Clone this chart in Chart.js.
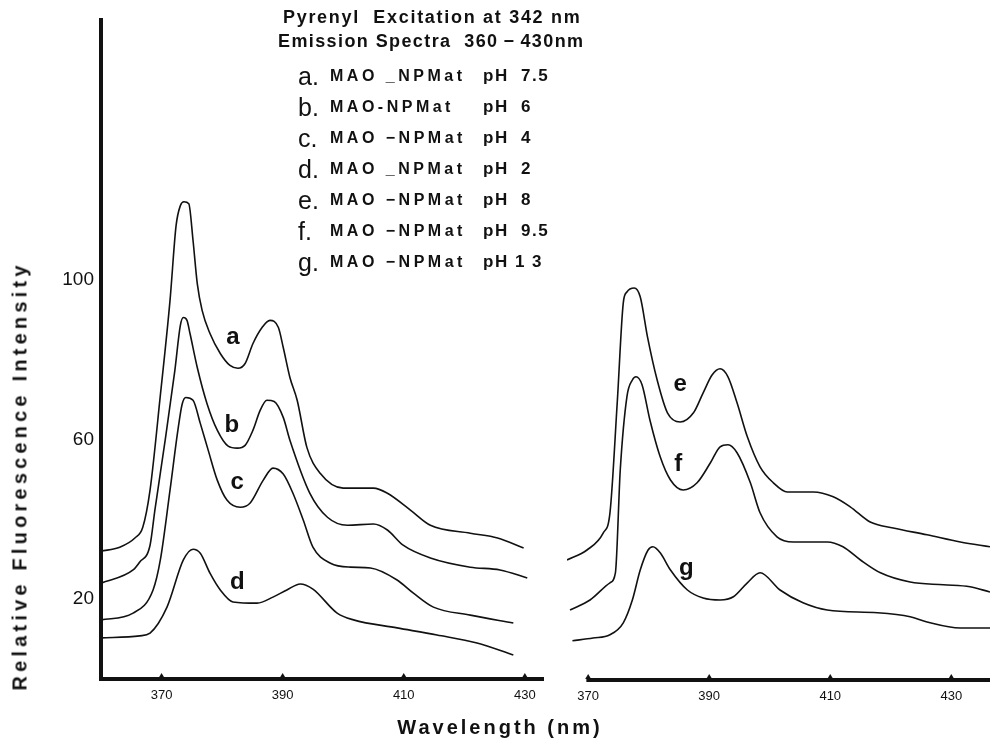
<!DOCTYPE html>
<html>
<head>
<meta charset="utf-8">
<script src="https://cdn.jsdelivr.net/npm/chart.js@4.4.1/dist/chart.umd.min.js"></script>
<style>
  body { margin: 0; background: #fff; }
  #wrap { position: relative; width: 990px; height: 740px; overflow: hidden;
          font-family: "Liberation Sans", Arial, sans-serif; color: #111; }
  canvas { position: absolute; top: 0; }
  #left { left: 0; }
  #right { left: 560px; }
  .t { position: absolute; white-space: nowrap; font-weight: bold; line-height: 20px; font-size: 18px; }
  .row { position: absolute; left: 0; width: 990px; height: 28px; line-height: 28px; white-space: nowrap; }
  .row span { position: absolute; top: 0; }
  .k { left: 298px; font-size: 25px; }
  .m { left: 330px; font-size: 16px; font-weight: bold; letter-spacing: 3.5px; }
  .p { left: 483px; font-size: 17px; font-weight: bold; letter-spacing: 1.5px; }
  #ytitle { position: absolute; left: 20px; top: 476px; white-space: nowrap;
            transform: translate(-50%, -50%) rotate(-90deg);
            font-size: 20px; font-weight: bold; letter-spacing: 4.2px; }
  #xtitle { position: absolute; left: 500px; top: 727px; white-space: nowrap;
            transform: translate(-50%, -50%);
            font-size: 20px; font-weight: bold; letter-spacing: 3px; }
</style>
</head>
<body>
<div id="wrap">
  <canvas id="left" width="560" height="740"></canvas>
  <canvas id="right" width="430" height="740"></canvas>

  <div class="t" style="left:283px; top:7px; letter-spacing:1.7px;">Pyrenyl&nbsp; Excitation at 342 nm</div>
  <div class="t" style="left:278px; top:31px; letter-spacing:1.4px;">Emission Spectra&nbsp; 360&thinsp;&minus;&thinsp;430nm</div>
  <div class="row" style="top:62px;"><span class="k">a.</span><span class="m">MAO _NPMat</span><span class="p">pH&nbsp; 7.5</span></div>
  <div class="row" style="top:93px;"><span class="k">b.</span><span class="m">MAO-NPMat</span><span class="p">pH&nbsp; 6</span></div>
  <div class="row" style="top:124px;"><span class="k">c.</span><span class="m">MAO &minus;NPMat</span><span class="p">pH&nbsp; 4</span></div>
  <div class="row" style="top:155px;"><span class="k">d.</span><span class="m">MAO _NPMat</span><span class="p">pH&nbsp; 2</span></div>
  <div class="row" style="top:186px;"><span class="k">e.</span><span class="m">MAO &minus;NPMat</span><span class="p">pH&nbsp; 8</span></div>
  <div class="row" style="top:217px;"><span class="k">f.</span><span class="m">MAO &minus;NPMat</span><span class="p">pH&nbsp; 9.5</span></div>
  <div class="row" style="top:248px;"><span class="k">g.</span><span class="m">MAO &minus;NPMat</span><span class="p">pH 1 3</span></div>

  <div id="ytitle">Relative Fluorescence Intensity</div>
  <div id="xtitle">Wavelength (nm)</div>
</div>

<script>
// wavelength (nm) / relative intensity, left panel
var nmA = [360, 363.1, 365.6, 366.9, 368.1, 369.8, 371.4, 372.4, 373.1, 373.7, 374.5, 375.2, 375.9, 376.7, 378.0, 379.7, 381.3, 382.6, 383.8, 385.1, 386.6, 387.9, 389.3, 390.1, 391.2, 392.4, 394.0, 396.2, 400.0, 405.0, 407.3, 411.1, 414.4, 421.0, 425.5, 429.8];
var valA = [32, 33, 35.3, 38, 47.3, 71, 94.8, 113.5, 118.5, 119.5, 119, 109.8, 99, 92.3, 86.5, 81.5, 78.5, 77.8, 79, 84, 88, 89.8, 88, 83, 75.5, 69.8, 58, 51.5, 47.8, 47.8, 46.5, 42.3, 38.5, 36.5, 35.3, 32.8];

var nmB = [360, 365.3, 366.4, 368.1, 368.9, 370.6, 372.2, 373.1, 373.6, 374.2, 374.7, 375.9, 377.5, 379.2, 381.0, 382.5, 383.8, 385.1, 386.3, 387.4, 388.6, 390.1, 391.2, 394.5, 397.4, 400.7, 405.0, 407.3, 409.9, 414.4, 421.0, 425.9, 430.4];
var valB = [24, 27.3, 29.3, 33.5, 42.3, 59.8, 77.3, 88.5, 90.5, 89.8, 86.5, 78, 69, 62.3, 58.3, 57.8, 58.5, 62.3, 67.3, 69.8, 69.5, 65.5, 59.8, 46.5, 40.5, 38.5, 38.8, 37.3, 33.5, 30.3, 28, 27.3, 25.3];

var nmC = [360, 365.3, 368.6, 369.8, 371.4, 372.7, 373.4, 374.0, 375.2, 376.4, 377.7, 379.2, 380.8, 383.0, 384.6, 386.8, 388.4, 390.1, 391.7, 393.4, 395.0, 397.9, 401.2, 404.5, 408.9, 411.6, 414.9, 421.0, 428.1];
var valC = [14.8, 16.5, 22.3, 29.8, 47.3, 62.3, 68.8, 70.5, 69.8, 64, 57.3, 49.8, 44.8, 43, 44, 49.8, 52.8, 51.3, 46.5, 39.8, 33, 29, 28, 27.8, 24.8, 21.5, 18, 16, 14];

var nmD = [360, 366.4, 368.1, 370.9, 373.6, 375.2, 376.4, 378.0, 379.7, 381.8, 385.8, 388.4, 390.7, 392.9, 395.0, 399.0, 401.7, 408.9, 415.5, 422.1, 428.1];
var valD = [10.3, 10.8, 11.5, 18, 29.8, 32.5, 31.5, 26.5, 22.3, 19.3, 19, 20.5, 22.3, 23.8, 22.5, 16.5, 14.8, 12.8, 11, 9, 6];

// right panel
var nmE = [366.5, 369.8, 372.5, 373.6, 374.8, 375.8, 376.4, 377.6, 378.6, 379.8, 381.4, 383.1, 385.2, 387.4, 389.0, 390.5, 391.8, 393.1, 394.6, 396.3, 398.4, 400.6, 402.9, 407.2, 410.5, 413.3, 416.6, 420.4, 426.0, 431.5, 436.4];
var valE = [30, 32.5, 36.8, 41.8, 69.3, 94.3, 97, 98, 95.8, 85.8, 75, 66.8, 64.5, 66.8, 71.8, 76.3, 77.8, 75.8, 69.3, 60.8, 53.3, 49.3, 47, 47, 45.8, 43.3, 39.5, 38, 36.3, 34.5, 33.3];

var nmF = [367.0, 370.3, 373.6, 374.5, 375.3, 376.4, 377.3, 377.9, 378.9, 380.2, 381.9, 383.6, 385.7, 388.0, 390.2, 391.8, 393.1, 394.6, 396.8, 398.4, 401.2, 403.9, 409.5, 412.1, 415.0, 418.3, 423.2, 428.7, 433.1, 436.4];
var valF = [17.5, 20, 24.3, 26.8, 52.5, 70.8, 75, 75.8, 73.8, 65, 55.8, 50, 47.5, 49.3, 54.3, 58.3, 58.8, 56.8, 49.3, 41.8, 35.8, 34.5, 34.5, 33.3, 30, 26.8, 24.5, 23.8, 23.3, 22];

var nmG = [367.4, 370.8, 373.6, 375.8, 377.3, 378.6, 379.9, 380.7, 381.9, 383.6, 386.4, 389.0, 391.8, 394.0, 396.3, 398.4, 401.7, 405.5, 409.5, 417.8, 423.2, 426.0, 431.5, 436.4];
var valG = [9.8, 10.5, 11.3, 14.3, 20, 27.5, 32.5, 33.3, 31.8, 27.5, 22.5, 20.5, 20, 20.8, 24.3, 26.8, 22.5, 19.3, 17.5, 16.8, 15.8, 14.5, 13, 13];

var xTickValues = [370, 390, 410, 430];
var yTickValues = [20, 60, 100];

var ink = '#111';
var fontFamily = '"Liberation Sans", Arial, sans-serif';

function spectrum(nm, val) {
    return {
        data: nm.map(function (x, i) { return { x: x, y: val[i] }; }),
        borderColor: ink,
        borderWidth: 1.6,
        pointRadius: 0,
        fill: false,
        cubicInterpolationMode: 'monotone'
    };
}

// letters printed next to each curve, placed in data units
var curveLabels = {
    id: 'curveLabels',
    afterDatasetsDraw: function (chart, args, opts) {
        var ctx = chart.ctx;
        var x = chart.scales.x, y = chart.scales.y;
        ctx.save();
        ctx.font = 'bold 24px ' + fontFamily;
        ctx.fillStyle = ink;
        ctx.textAlign = 'center';
        ctx.textBaseline = 'middle';
        opts.items.forEach(function (it) {
            ctx.fillText(it[0], x.getPixelForValue(it[1]), y.getPixelForValue(it[2]));
        });
        ctx.restore();
    }
};

// bottom axis line that starts at a given wavelength instead of the chart edge,
// plus the small tick bumps on the x axis
var partialAxis = {
    id: 'partialAxis',
    afterDraw: function (chart, args, opts) {
        var ctx = chart.ctx, area = chart.chartArea, x = chart.scales.x;
        ctx.save();
        ctx.strokeStyle = ink;
        ctx.fillStyle = ink;
        if (opts.from) {
            ctx.lineWidth = 4;
            ctx.beginPath();
            ctx.moveTo(x.getPixelForValue(opts.from), area.bottom);
            ctx.lineTo(area.right, area.bottom);
            ctx.stroke();
        }
        xTickValues.forEach(function (v) {
            var px = x.getPixelForValue(v);
            ctx.beginPath();
            ctx.moveTo(px - 3, area.bottom - 1);
            ctx.lineTo(px, area.bottom - 6);
            ctx.lineTo(px + 3, area.bottom - 1);
            ctx.fill();
        });
        ctx.restore();
    }
};

function xScale(min, max, withBorder, height) {
    return {
        type: 'linear',
        min: min,
        max: max,
        afterBuildTicks: function (s) { s.ticks = xTickValues.map(function (v) { return { value: v }; }); },
        afterFit: function (s) { s.height = height; },
        grid: { display: false, drawTicks: false },
        border: { display: withBorder, color: ink, width: 4 },
        ticks: { color: ink, font: { family: fontFamily, size: 13 }, padding: 9, maxRotation: 0 }
    };
}

var ctxLeft = document.getElementById('left').getContext('2d');
new Chart(ctxLeft, {
    type: 'line',
    data: {
        datasets: [spectrum(nmA, valA), spectrum(nmB, valB), spectrum(nmC, valC), spectrum(nmD, valD)]
    },
    options: {
        responsive: false,
        animation: false,
        layout: { padding: { left: 0, top: 20, right: 17, bottom: 0 } },
        scales: {
            x: xScale(360, 433, true, 61),
            y: {
                min: 0,
                max: 165,
                afterBuildTicks: function (s) { s.ticks = yTickValues.map(function (v) { return { value: v }; }); },
                afterFit: function (s) { s.width = 101; },
                grid: { display: false, drawTicks: false },
                border: { color: ink, width: 4 },
                ticks: { color: ink, font: { family: fontFamily, size: 19 }, padding: 7 }
            }
        },
        plugins: {
            legend: { display: false },
            tooltip: { enabled: false },
            curveLabels: { items: [['a', 381.8, 85.5], ['b', 381.6, 63.5], ['c', 382.5, 49.3], ['d', 382.5, 24.3]] }
        }
    },
    plugins: [curveLabels, partialAxis]
});

var ctxRight = document.getElementById('right').getContext('2d');
new Chart(ctxRight, {
    type: 'line',
    data: {
        datasets: [spectrum(nmE, valE), spectrum(nmF, valF), spectrum(nmG, valG)]
    },
    options: {
        responsive: false,
        animation: false,
        layout: { padding: { left: 7, top: 20, right: 0, bottom: 0 } },
        scales: {
            x: xScale(366.5, 436.4, false, 60),
            y: { display: false, min: 0, max: 165 }
        },
        plugins: {
            legend: { display: false },
            tooltip: { enabled: false },
            curveLabels: { items: [['e', 385.2, 73.8], ['f', 384.9, 53.8], ['g', 386.2, 28]] },
            partialAxis: { from: 369.7 }
        }
    },
    plugins: [curveLabels, partialAxis]
});
</script>
</body>
</html>
